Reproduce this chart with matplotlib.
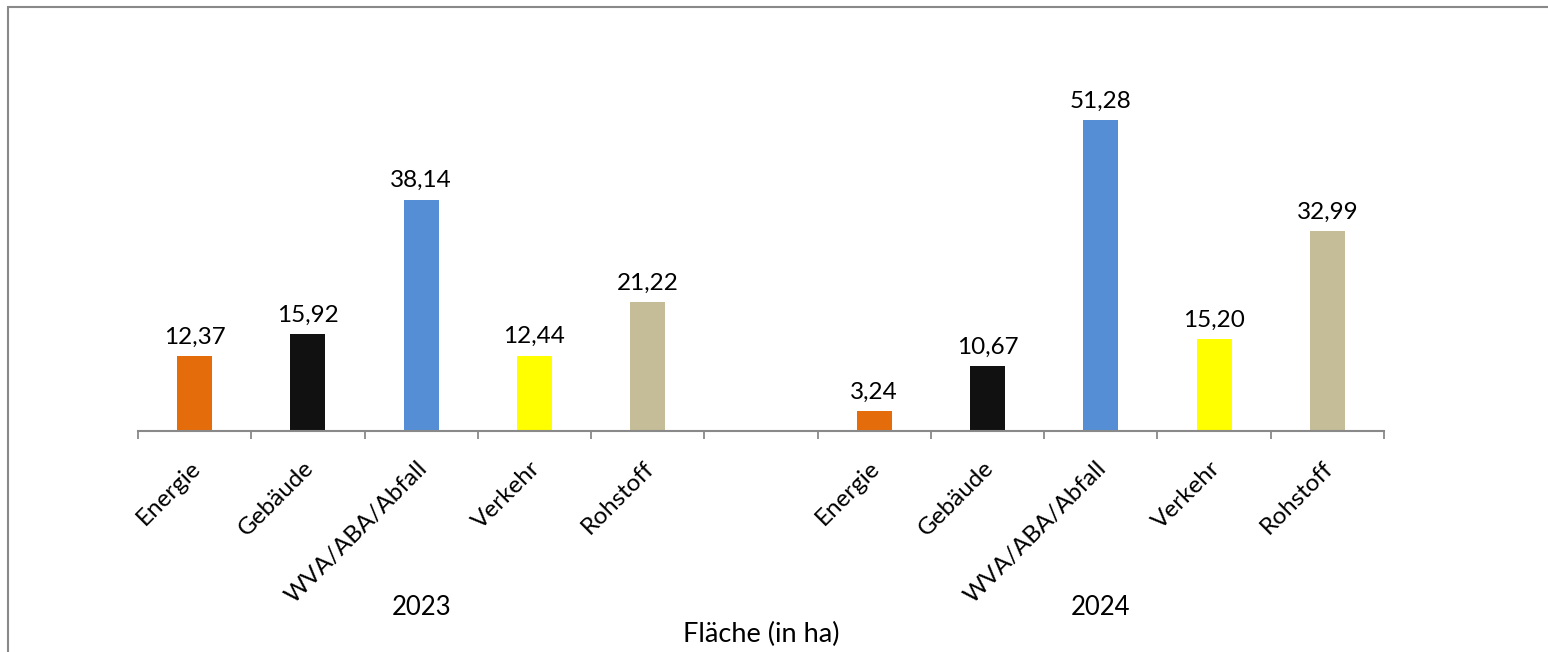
import matplotlib
matplotlib.use("Agg")
from matplotlib import pyplot as plt
from matplotlib.patches import Rectangle
from matplotlib.transforms import ScaledTranslation

plt.rcParams['font.family'] = ['Lato', 'DejaVu Sans']

years = ["2023", "2024"]
categories = ["Energie", "Gebäude", "WVA/ABA/Abfall", "Verkehr", "Rohstoff"]
values_2023 = [12.37, 15.92, 38.14, 12.44, 21.22]
values_2024 = [3.24, 10.67, 51.28, 15.20, 32.99]
colors = ["#E46C0A", "#111111", "#558ED5", "#FFFF00", "#C4BD97"]
axis_title = "Fläche (in ha)"

W, H = 1548, 652
fig = plt.figure(figsize=(W / 100, H / 100), dpi=100)
ax = fig.add_axes([138 / W, (H - 431) / H, (1384 - 138) / W, 364 / H])

# x positions: 5 slots, one empty slot, 5 slots
pos_2023 = list(range(5))
pos_2024 = [p + 6 for p in range(5)]

ax.bar(pos_2023, values_2023, width=0.31, color=colors)
ax.bar(pos_2024, values_2024, width=0.31, color=colors)

for xs, vals in [(pos_2023, values_2023), (pos_2024, values_2024)]:
    for x, v in zip(xs, vals):
        ax.annotate(f"{v:.2f}".replace(".", ","), (x, v), xytext=(0, 6),
                    textcoords="offset points", ha="center", va="bottom", fontsize=17.5)

ax.set_xlim(-0.5, 10.5)
ax.set_ylim(0, 60)

# tick marks at slot boundaries, labels at slot centers
ax.set_xticks([i - 0.5 for i in range(12)])
ax.set_xticklabels([])
ax.set_xticks(pos_2023 + pos_2024, minor=True)
ax.set_xticklabels(categories + categories, minor=True, rotation=45, ha="right",
                   rotation_mode="anchor", fontsize=17.5)
ax.tick_params(axis="x", which="major", length=6, width=1.3, color="#898989")
ax.tick_params(axis="x", which="minor", length=0, pad=19)
shift = ScaledTranslation(-5 / 100, 0, fig.dpi_scale_trans)
for lbl in ax.get_xticklabels(minor=True):
    lbl.set_transform(lbl.get_transform() + shift)

ax.set_yticks([])
for s in ["top", "right", "left"]:
    ax.spines[s].set_visible(False)
ax.spines["bottom"].set_color("#898989")
ax.spines["bottom"].set_linewidth(1.5)

tr = ax.get_xaxis_transform()
ax.text(2, -0.486, years[0], transform=tr, ha="center", va="center", fontsize=18.5)
ax.text(8, -0.486, years[1], transform=tr, ha="center", va="center", fontsize=18.5)
ax.text(5, -0.56, axis_title, transform=tr, ha="center", va="center", fontsize=19.5)

# outer chart border (only left and top edges visible)
fig.patches.append(Rectangle((8 / W, -0.1), 1.2, (H - 7) / H + 0.1,
                             transform=fig.transFigure, fill=False,
                             edgecolor="#898989", linewidth=1.5))

fig.savefig("out.png", dpi=100)
